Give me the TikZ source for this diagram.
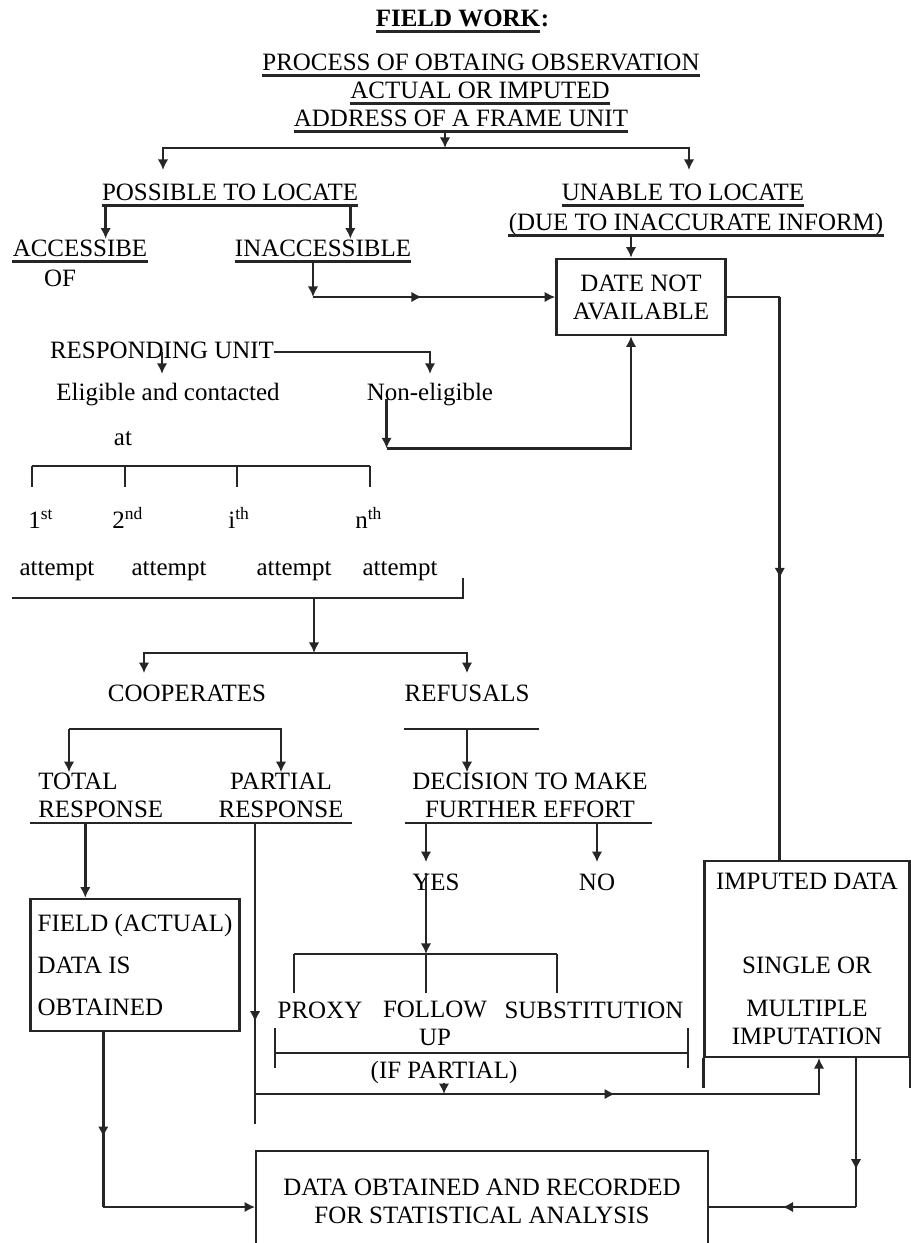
\documentclass[tikz,border=0pt]{standalone}
\usepackage{fontspec}
\setmainfont{Liberation Serif}
\usetikzlibrary{positioning,calc,arrows.meta,decorations.markings}
\tikzset{
    txt/.style={
        inner sep=0pt,
        text height=10pt,
        text depth=2.5pt
    },
    ulabel/.style={
        txt,
        append after command={
            (\tikzlastnode.south west) edge[line width=1.4pt, black!85] (\tikzlastnode.south east)
        }
    },
    multi/.style={
        inner sep=0pt,
        align=center
    },
    block/.style={
        draw=black!85,
        line width=1.5pt,
        align=center,
        inner sep=4pt
    },
    line/.style={
        line width=1.5pt,
        black!85
    },
    conn/.style={
        line,
        -{Latex[length=6pt,width=6pt]}
    },
    midarrow/.style={
        postaction=decorate,
        decoration={markings, mark=at position #1 with {\arrow{Latex[length=6pt,width=6pt]}}}
    }
}

\begin{document}
\begin{tikzpicture}[x=0.02cm, y=-0.02cm, font=\fontsize{14.2}{16}\selectfont]
\useasboundingbox (0,0) rectangle (911,1243);
\clip (0,0) rectangle (911,1243);

\node[ulabel, font=\fontsize{14.2}{16}\selectfont\bfseries] (title) at (458,20) {FIELD WORK};
\node[txt, font=\fontsize{14.2}{16}\selectfont\bfseries, right=0pt of title] (colon) {:};
\node[ulabel] (proc1) at (481,64) {PROCESS OF OBTAING OBSERVATION};
\node[ulabel] (proc2) at (480,92) {ACTUAL OR IMPUTED};
\node[ulabel] (proc3) at (461,120) {ADDRESS OF A FRAME UNIT};

\node[ulabel] (possible) at (230,194) {POSSIBLE TO LOCATE};
\node[ulabel] (unable1) at (683,194) {UNABLE TO LOCATE};
\node[ulabel] (unable2) at (696,224) {(DUE TO INACCURATE INFORM)};
\node[ulabel] (access) at (80,250) {ACCESSIBE};
\node[txt] (accof) at (60,280) {OF};
\node[ulabel] (inaccess) at (323,250) {INACCESSIBLE};
\node[block, minimum width=3.38cm, minimum height=1.52cm] (notavail) at (641,297) {DATE NOT\\AVAILABLE};

\node[txt] (respond) at (162,352) {RESPONDING UNIT};
\node[txt] (eligible) at (168,394) {Eligible and contacted};
\node[txt] (noneligible) at (430,394) {Non-eligible};
\node[txt] (at) at (123,439) {at};

\foreach \name/\x/\lbl in {o1/28/1\textsuperscript{st},o2/112/2\textsuperscript{nd},o3/228/i\textsuperscript{th},o4/355/n\textsuperscript{th}}
    \node[txt, anchor=west] (\name) at (\x,522) {\lbl};

\foreach \i/\x in {1/57,2/169,3/294,4/400}
    \node[txt] (att\i) at (\x,569) {attempt};

\node[txt] (coop) at (187,695) {COOPERATES};
\node[txt] (refuse) at (467,695) {REFUSALS};
\node[multi, align=left, anchor=west] (total) at (38,795) {TOTAL\\RESPONSE};
\node[multi] (partial) at (281,795) {PARTIAL\\RESPONSE};
\node[multi] (decision) at (530,795) {DECISION TO MAKE\\FURTHER EFFORT};
\node[txt] (yes) at (436,884) {YES};
\node[txt] (no) at (597,884) {NO};

\node[txt] (proxy) at (320,1012) {PROXY};
\node[multi] (follow) at (435,1023.5) {FOLLOW\\UP};
\node[txt] (subst) at (594,1012) {SUBSTITUTION};
\node[txt] (ifpartial) at (444,1072) {(IF PARTIAL)};

\node[block, align=left, minimum width=4.12cm, minimum height=2.64cm] (field) at (135,965) {FIELD (ACTUAL)\\[7.8pt]DATA IS\\[7.8pt]OBTAINED};
\node[block, line width=1.2pt, minimum width=4.1cm, minimum height=3.92cm] (imputed) at (807,959) {IMPUTED DATA\\[32pt]SINGLE OR\\[8.4pt]MULTIPLE\\IMPUTATION};
\node[block, line width=1.1pt, minimum width=9.04cm, minimum height=2cm] (final) at (482,1201) {DATA OBTAINED AND RECORDED\\FOR STATISTICAL ANALYSIS};

\coordinate (split) at (445,148);
\coordinate (splitl) at (163,170);
\coordinate (splitr) at (689,170);
\draw[conn] (proc3.south -| split) -- (split);
\draw[conn] (split) -| (splitl);
\draw[conn] (split) -| (splitr);

\coordinate (pl) at ($(possible.south west)+(4,0)$);
\coordinate (pr) at ($(possible.south east)+(-8,0)$);
\draw[conn] (pl) -- (pl |- access.north);
\draw[conn] (pr) -- (pr |- inaccess.north);

\coordinate (un) at ($(notavail.north)+(-10,0)$);
\draw[conn] (un |- unable2.south) -- (un);

\coordinate (ina) at ($(inaccess.south)+(-10,0)$);
\coordinate (inacorner) at (ina |- notavail.west);
\draw[conn] (ina) -- (inacorner);
\draw[conn, midarrow=0.45] (inacorner) -- (notavail.west);

\coordinate (dn) at ($(notavail.east)+(53,0)$);
\draw[line] (notavail.east) -- (dn);
\draw[line, midarrow=0.5] (dn) -- (dn |- imputed.north);

\draw[conn, shorten >=5pt] (respond.center) -- (respond.center |- eligible.north);
\draw[conn, shorten >=5pt] (respond.east) -| (noneligible.north);

\coordinate (ne) at ($(noneligible.south west)+(20,-6)$);
\coordinate (necorner) at ($(ne)+(0,49)$);
\draw[conn] (ne) -- (necorner);
\draw[conn] (necorner) -| (un |- notavail.south);

\coordinate (atbar) at (0,466);
\draw[line] ($(o1.north west |- atbar)+(4,0)$) -- ($(o4.north west |- atbar)+(15,0)$);
\foreach \n/\dx in {o1/4,o2/13,o3/9,o4/15}
    \draw[line] ($(\n.north west |- atbar)+(\dx,0)$) -- ++(0,21);

\coordinate (attl) at (12,598);
\coordinate (attr) at (463,578);
\coordinate (attbar) at (314,598);
\coordinate (crsplit) at (314,653);
\draw[line] (attl) -| (attr);
\draw[conn] (attbar) -- (crsplit);
\coordinate (cl) at ($(coop.north)+(-43,0)$);
\draw[conn, shorten >=6pt] (crsplit) -| (cl);
\draw[conn, shorten >=6pt] (crsplit) -| (refuse.north);

\coordinate (cbar) at (0,729);
\coordinate (tl) at ($(total.north west)+(31,0)$);
\draw[conn] (tl |- cbar) -- (tl);
\draw[conn] (tl |- cbar) -| (partial.north);
\coordinate (rl) at (refuse.west |- cbar);
\draw[line] (rl) -- ++(135,0);
\draw[conn] (refuse.south |- cbar) -- (refuse.south |- decision.north);

\coordinate (rbar) at (30,823);
\coordinate (dbar) at (405,823);
\draw[line] (rbar) -- ++(322,0);
\draw[line] (dbar) -- ++(247,0);

\coordinate (tf) at ($(field.north west)+(56,0)$);
\draw[conn] (tf |- rbar) -- (tf);

\coordinate (pv) at (final.north west |- rbar);
\coordinate (pbranch) at ($(final.north west)+(0,-56)$);
\coordinate (pend) at ($(final.north west)+(0,-26)$);
\coordinate (iu) at ($(imputed.south)+(12,0)$);
\draw[line, line width=1.1pt, midarrow=0.66] (pv) -- (pend);
\draw[conn, line width=1.1pt, midarrow=0.6] (pbranch) -| (iu);
\draw[conn] (ifpartial.south) -- (ifpartial.south |- pbranch);

\coordinate (yx) at ($(yes.north)+(-10,0)$);
\draw[conn, shorten >=6pt] (yx |- dbar) -- (yx);
\draw[conn, shorten >=6pt] (no.north |- dbar) -- (no.north);

\coordinate (ybar) at (0,954);
\coordinate (bl) at (294,954);
\coordinate (bm) at (yx |- ybar);
\coordinate (br) at (557,954);
\draw[conn] (yx) -- (bm);
\draw[line] (bl) -- (br);
\foreach \c in {bl,bm,br}
    \draw[line] (\c) -- ++(0,39);

\coordinate (fl) at (275,1053);
\coordinate (fr) at (688,1053);
\draw[line] (fl) -- (fr);
\foreach \c in {fl,fr}
    \draw[line] ($(\c)+(0,-25)$) -- ++(0,40);

\coordinate (fin) at ($(final.west)+(0,6)$);
\coordinate (fout) at ($(final.east)+(0,6)$);
\coordinate (fd) at ($(field.south west)+(74,0)$);
\draw[line, midarrow=0.6] (fd) -- (fd |- fin);
\draw[conn] (fd |- fin) -- (fin);

\coordinate (id) at ($(imputed.south)+(49,0)$);
\draw[line, midarrow=0.75] (id) -- (id |- fout);
\draw[line, midarrow=0.5] (id |- fout) -- (fout);

\draw[line, line width=1.2pt] (imputed.south west) -- ++(0,30);
\draw[line, line width=1.2pt] (imputed.south east) -- ++(0,30);

\end{tikzpicture}
\end{document}
